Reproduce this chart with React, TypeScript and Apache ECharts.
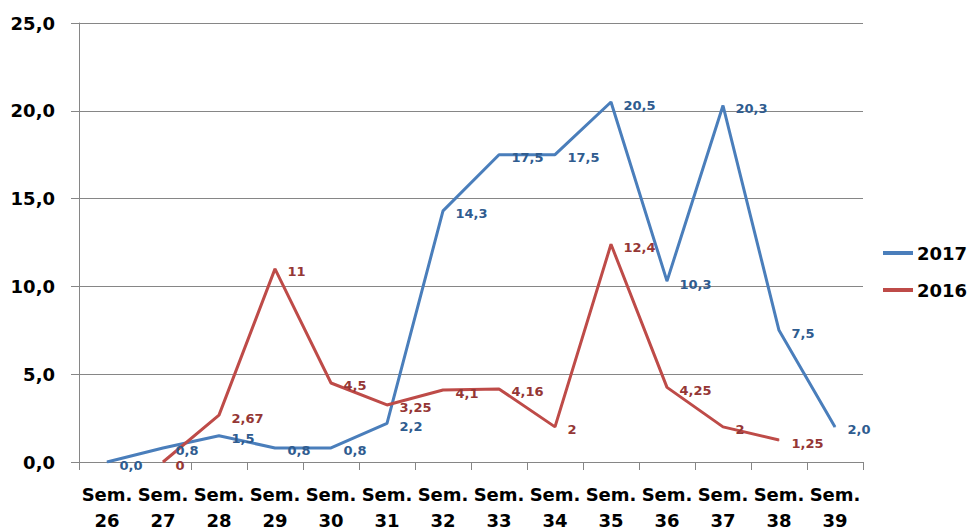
import React, { useEffect, useRef } from "react";
import * as echarts from "echarts";

const categories = ["Sem.\n26", "Sem.\n27", "Sem.\n28", "Sem.\n29", "Sem.\n30", "Sem.\n31", "Sem.\n32", "Sem.\n33", "Sem.\n34", "Sem.\n35", "Sem.\n36", "Sem.\n37", "Sem.\n38", "Sem.\n39"];
const values2017 = [0.0, 0.8, 1.5, 0.8, 0.8, 2.2, 14.3, 17.5, 17.5, 20.5, 10.3, 20.3, 7.5, 2.0];
const values2016 = [null, 0, 2.67, 11, 4.5, 3.25, 4.1, 4.16, 2, 12.4, 4.25, 2, 1.25, null];

const FONT = "DejaVu Sans";

export default function App() {
  const ref = useRef<HTMLDivElement>(null);
  useEffect(() => {
    if (!ref.current) return;
    const chart = echarts.init(ref.current, null, { renderer: "svg" });
    chart.setOption({
      animation: false,
      backgroundColor: "#ffffff",
      grid: { left: 79, right: 108, top: 23, bottom: 68, containLabel: false, outerBoundsMode: "none" },
      legend: {
        orient: "vertical",
        left: 878,
        top: 239,
        itemWidth: 30,
        itemHeight: 4,
        itemGap: 19,
        icon: "rect",
        textStyle: { fontFamily: FONT, fontSize: 18, color: "#000", fontWeight: "bold", padding: [0, 0, 0, -1] },
        data: ["2017", "2016"],
      },
      xAxis: {
        type: "category",
        data: categories,
        boundaryGap: true,
        axisLine: { lineStyle: { color: "#868686", width: 1 } },
        axisTick: { show: true, length: 8, lineStyle: { color: "#868686" }, alignWithLabel: false },
        axisLabel: {
          interval: 0,
          margin: 19,
          fontFamily: FONT,
          fontSize: 18,
          fontWeight: "bold",
          color: "#000",
          lineHeight: 26,
        },
      },
      yAxis: {
        type: "value",
        min: 0,
        max: 25,
        interval: 5,
        axisLine: { show: true, lineStyle: { color: "#868686", width: 1 } },
        axisTick: { show: true, length: 8, lineStyle: { color: "#868686" } },
        splitLine: { show: true, lineStyle: { color: "#868686", width: 1 } },
        axisLabel: {
          margin: 24,
          fontFamily: FONT,
          fontSize: 18,
          fontWeight: "bold",
          color: "#000",
          formatter: (v: number) => v.toFixed(1).replace(".", ","),
        },
      },
      series: [
        {
          name: "2017",
          type: "line",
          data: values2017,
          color: "#4A7EBB",
          lineStyle: { color: "#4A7EBB", width: 3 },
          symbol: "circle",
          symbolSize: 1,
          itemStyle: { color: "#4A7EBB" },
          label: {
            show: true,
            position: "right",
            distance: 12,
            offset: [0, 3],
            fontFamily: FONT,
            fontSize: 13,
            fontWeight: "bold",
            color: "#2F5C8F",
            formatter: (p: any) => Number(p.value).toFixed(1).replace(".", ","),
          },
        },
        {
          name: "2016",
          type: "line",
          data: values2016,
          color: "#BE4B48",
          lineStyle: { color: "#BE4B48", width: 3 },
          symbol: "circle",
          symbolSize: 1,
          itemStyle: { color: "#BE4B48" },
          label: {
            show: true,
            position: "right",
            distance: 12,
            offset: [0, 3],
            fontFamily: FONT,
            fontSize: 13,
            fontWeight: "bold",
            color: "#953735",
            formatter: (p: any) => String(p.value).replace(".", ","),
          },
        },
      ],
    });
    return () => chart.dispose();
  }, []);
  return <div ref={ref} style={{ width: 971, height: 530, position: "absolute", left: 0, top: 0 }} />;
}
